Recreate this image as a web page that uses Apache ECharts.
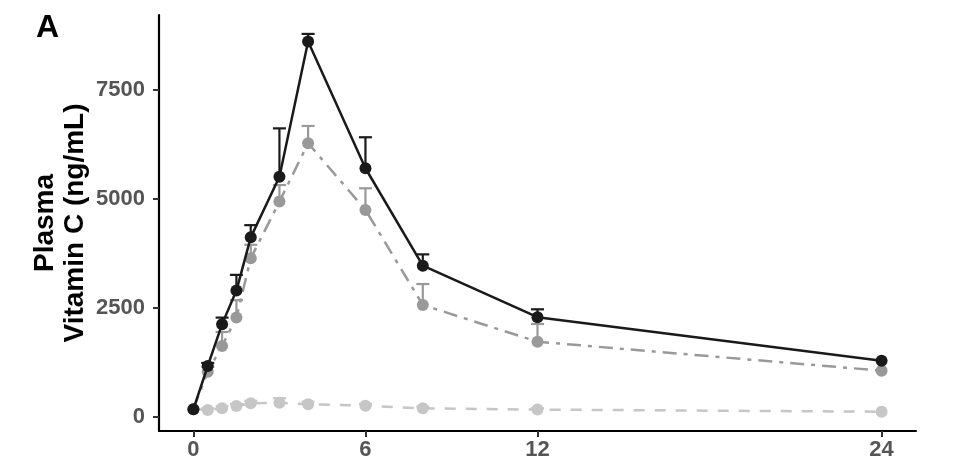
<!DOCTYPE html>
<html>
<head>
<meta charset="utf-8">
<script src="https://cdn.jsdelivr.net/npm/echarts@6/dist/echarts.min.js"></script>
<style>
html,body{margin:0;padding:0;background:#fff;}
#chart{width:958px;height:472px;}
</style>
</head>
<body>
<div id="chart"></div>
<script>
const times = [0, 0.5, 1, 1.5, 2, 3, 4, 6, 8, 12, 24];
const xTicks = [0, 6, 12, 24];
const yTicks = [0, 2500, 5000, 7500];

const blackMean  = [180, 1170, 2130, 2900, 4120, 5510, 8610, 5705, 3470, 2290, 1292];
const blackUpper = [180, 1240, 2280, 3260, 4400, 6620, 8786, 6416, 3730, 2470, 1292];

const midMean  = [180, 1040, 1630, 2280, 3640, 4940, 6280, 4750, 2570, 1727, 1062];
const midUpper = [180, 1150, 1950, 2680, 3950, 5320, 6675, 5246, 3050, 2133, 1062];

const lightMean  = [180, 160, 200, 252, 314, 328, 291, 259, 200, 170, 122];
const lightUpper = [180, 200, 245, 300, 370, 430, 350, 300, 240, 200, 122];

const pairs = (xs, ys) => xs.map((x, i) => [x, ys[i]]);
const errData = (xs, m, u) => xs.map((x, i) => [x, m[i], u[i]]);

function errRender(color) {
  return function (params, api) {
    const x = api.value(0), m = api.value(1), u = api.value(2);
    if (u - m < 1) return null;
    const p0 = api.coord([x, m]);
    const p1 = api.coord([x, u]);
    const hw = 6.5;
    return {
      type: 'group',
      children: [
        { type: 'line', shape: { x1: p0[0], y1: p0[1], x2: p1[0], y2: p1[1] }, style: { stroke: color, lineWidth: 2.2 } },
        { type: 'line', shape: { x1: p1[0] - hw, y1: p1[1], x2: p1[0] + hw, y2: p1[1] }, style: { stroke: color, lineWidth: 2.2 } }
      ]
    };
  };
}

const C_BLACK = '#1a1a1a', C_MID = '#999999', C_LIGHT = '#c6c6c6';
const LABEL_FONT = { color: '#555555', fontFamily: 'Liberation Sans', fontWeight: 'bold', fontSize: 22 };

const chart = echarts.init(document.getElementById('chart'), null, { renderer: 'canvas' });
chart.setOption({
  backgroundColor: '#ffffff',
  animation: false,
  title: {
    text: 'A', left: 31, top: 7,
    textStyle: { fontFamily: 'Liberation Sans', fontWeight: 'bold', fontSize: 32, color: '#000' }
  },
  grid: { left: 159, right: 42, top: 15, bottom: 41, containLabel: false },
  xAxis: {
    type: 'value', min: -1.2, max: 25.2,
    splitLine: { show: false },
    axisLine: { show: true, onZero: false, lineStyle: { color: '#000', width: 2.2 } },
    axisTick: { show: true, customValues: xTicks, length: 6, lineStyle: { color: '#333', width: 2 } },
    axisLabel: Object.assign({ customValues: xTicks, margin: 8, formatter: v => String(v) }, LABEL_FONT)
  },
  yAxis: {
    type: 'value', min: -321, max: 9220,
    name: 'Plasma\nVitamin C (ng/mL)',
    nameLocation: 'middle', nameRotate: 90, nameGap: 69, nameMoveOverlap: false,
    nameTextStyle: { fontFamily: 'Liberation Sans', fontWeight: 'bold', fontSize: 28, color: '#000', lineHeight: 30, align: 'center' },
    splitLine: { show: false },
    axisLine: { show: true, onZero: false, lineStyle: { color: '#000', width: 2.2 } },
    axisTick: { show: true, customValues: yTicks, length: 6, lineStyle: { color: '#333', width: 2 } },
    axisLabel: Object.assign({ customValues: yTicks, margin: 14, formatter: v => String(v) }, LABEL_FONT)
  },
  series: [
    {
      name: 'light', type: 'line', data: pairs(times, lightMean),
      symbol: 'circle', symbolSize: 12, itemStyle: { color: C_LIGHT },
      lineStyle: { color: C_LIGHT, width: 2.5, type: [11, 10] }, z: 2
    },
    { type: 'custom', data: errData(times, lightMean, lightUpper), renderItem: errRender(C_LIGHT), encode: { x: 0, y: [1, 2] }, z: 2 },
    {
      name: 'mid', type: 'line', data: pairs(times, midMean),
      symbol: 'circle', symbolSize: 12, itemStyle: { color: C_MID },
      lineStyle: { color: C_MID, width: 2.5, type: [14, 7, 4, 7] }, z: 3
    },
    { type: 'custom', data: errData(times, midMean, midUpper), renderItem: errRender(C_MID), encode: { x: 0, y: [1, 2] }, z: 3 },
    {
      name: 'black', type: 'line', data: pairs(times, blackMean),
      symbol: 'circle', symbolSize: 12, itemStyle: { color: C_BLACK },
      lineStyle: { color: C_BLACK, width: 2.5 }, z: 4
    },
    { type: 'custom', data: errData(times, blackMean, blackUpper), renderItem: errRender(C_BLACK), encode: { x: 0, y: [1, 2] }, z: 4 }
  ]
});
</script>
</body>
</html>
